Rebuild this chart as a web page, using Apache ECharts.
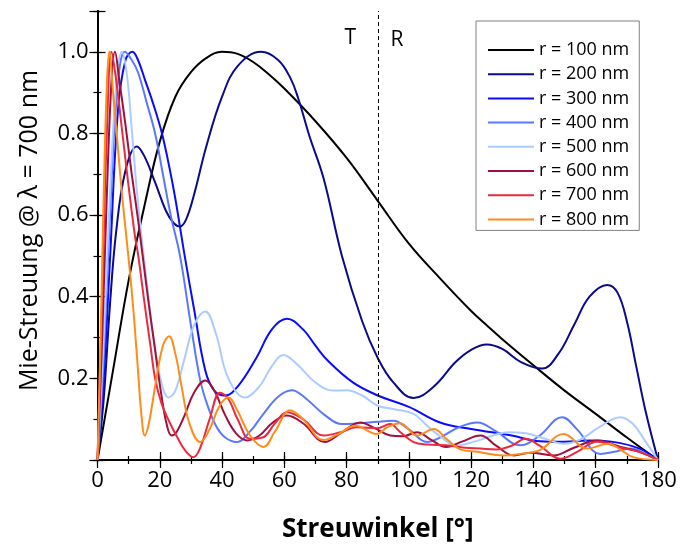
<!DOCTYPE html>
<html>
<head>
<meta charset="utf-8">
<title>Mie-Streuung</title>
<script src="https://cdn.jsdelivr.net/npm/echarts@6/dist/echarts.min.js"></script>
<style>
  html, body { margin: 0; padding: 0; background: #fff; }
  #chart { width: 683px; height: 548px; }
</style>
</head>
<body>
<div id="chart"></div>
<script>
// Normalised Mie scattering intensity vs. scattering angle (degrees), lambda = 700 nm
const xTicks = [0, 20, 40, 60, 80, 100, 120, 140, 160, 180];
const yTicks = [0.2, 0.4, 0.6, 0.8, 1.0];

const radiusLabels = ['r = 100 nm', 'r = 200 nm', 'r = 300 nm', 'r = 400 nm',
                      'r = 500 nm', 'r = 600 nm', 'r = 700 nm', 'r = 800 nm'];
const radiusColors = ['#000000', '#0a0a8a', '#0a0aff', '#5a78ff',
                      '#aaccff', '#a0103c', '#ec2a3e', '#ff8c1a'];

const angles100 = [0, 5, 10, 15, 20, 25, 30, 35, 40, 45, 50, 55, 60, 70, 80, 90, 100, 110, 120, 125, 130, 140, 150, 160, 170, 180];
const values100 = [0, 0.22, 0.44, 0.62, 0.78, 0.89, 0.95, 0.985, 1.0, 0.995, 0.975, 0.945, 0.91, 0.83, 0.74, 0.635, 0.53, 0.445, 0.365, 0.33, 0.296, 0.232, 0.17, 0.113, 0.055, 0];

const angles200 = [0, 2, 4, 6, 9, 12.6, 15, 18.5, 22, 24.5, 26.5, 28.5, 31, 35, 40, 45, 52.5, 58, 62, 64.5, 68, 72.6, 78.5, 85, 90, 95, 101.5, 108, 115, 120, 125, 130, 136, 142.8, 148, 153, 158, 163.7, 167, 170, 173, 176, 180];
const values200 = [0, 0.15, 0.38, 0.56, 0.71, 0.768, 0.745, 0.68, 0.61, 0.58, 0.572, 0.59, 0.65, 0.77, 0.89, 0.965, 1.0, 0.98, 0.935, 0.885, 0.795, 0.69, 0.5, 0.34, 0.25, 0.19, 0.152, 0.18, 0.24, 0.27, 0.283, 0.272, 0.24, 0.224, 0.26, 0.33, 0.4, 0.429, 0.41, 0.34, 0.23, 0.12, 0];

const angles300 = [0, 2, 4, 6.6, 9, 11.2, 13, 15.3, 18, 20.7, 23, 25, 28, 31, 34.6, 37.5, 41, 45, 51, 56, 60.8, 66, 70, 74, 82, 90, 100, 110, 120, 133, 142, 150, 158, 165, 174, 180];
const values300 = [0, 0.2, 0.49, 0.86, 0.98, 1.0, 0.98, 0.93, 0.87, 0.8, 0.72, 0.64, 0.5, 0.37, 0.22, 0.17, 0.158, 0.18, 0.25, 0.32, 0.346, 0.32, 0.28, 0.243, 0.19, 0.158, 0.13, 0.092, 0.076, 0.06, 0.046, 0.045, 0.048, 0.045, 0.028, 0];

const angles400 = [0, 2, 4, 6.5, 8.8, 11, 13, 16, 18.5, 21, 23.5, 26.5, 30, 33, 35.5, 38.3, 41, 44.7, 49, 53, 58, 62.4, 67, 73, 78.5, 84, 90, 95, 100, 105.8, 110, 116, 122, 128, 135.8, 142, 149.2, 154, 161.5, 166, 171, 176, 180];
const values400 = [0, 0.25, 0.6, 0.92, 1.0, 0.98, 0.95, 0.87, 0.8, 0.7, 0.6, 0.5, 0.33, 0.195, 0.13, 0.08, 0.055, 0.044, 0.07, 0.11, 0.155, 0.171, 0.15, 0.11, 0.088, 0.09, 0.094, 0.096, 0.075, 0.044, 0.055, 0.08, 0.092, 0.07, 0.036, 0.06, 0.105, 0.075, 0.015, 0.02, 0.028, 0.015, 0];

const angles500 = [0, 2, 4, 6, 7.8, 9.5, 11, 13, 15.3, 18, 20.5, 22.8, 25, 28, 31, 34.6, 38, 42, 47.4, 52, 56, 59.7, 64, 70, 75.7, 80, 85, 90, 95, 101.5, 105, 109, 115.5, 121, 127, 132, 137, 143, 149.6, 155, 161, 168, 172, 176, 180];
const values500 = [0, 0.3, 0.65, 0.92, 1.0, 0.94, 0.81, 0.63, 0.47, 0.3, 0.19, 0.153, 0.17, 0.25, 0.33, 0.364, 0.31, 0.2, 0.153, 0.18, 0.23, 0.257, 0.235, 0.19, 0.17, 0.171, 0.158, 0.133, 0.125, 0.113, 0.09, 0.064, 0.036, 0.045, 0.06, 0.068, 0.066, 0.054, 0.04, 0.05, 0.08, 0.105, 0.088, 0.045, 0];

const angles600 = [0, 1.5, 3, 4.5, 5.6, 7, 9, 11, 13, 14.5, 16.5, 18.5, 20.5, 22.3, 23.8, 25.5, 28, 31, 34.6, 37.5, 41, 44.5, 48, 52, 56, 60.8, 66, 73, 78, 84.4, 89, 94, 98, 102.6, 107, 112, 117, 123, 128, 133.7, 139, 146.5, 153, 160.5, 168, 174, 180];
const values600 = [0, 0.3, 0.65, 0.93, 1.0, 0.93, 0.82, 0.7, 0.59, 0.5, 0.38, 0.27, 0.16, 0.085, 0.06, 0.07, 0.11, 0.165, 0.195, 0.17, 0.11, 0.065, 0.048, 0.06, 0.09, 0.109, 0.09, 0.044, 0.065, 0.092, 0.078, 0.06, 0.058, 0.068, 0.05, 0.032, 0.045, 0.06, 0.035, 0.011, 0.018, 0.011, 0.03, 0.048, 0.032, 0.02, 0];

const angles700 = [0, 1.5, 3, 4.5, 6, 8, 10, 12, 13.1, 15, 17, 18.5, 20.5, 23, 26, 28.5, 30.8, 33, 36, 39.4, 42, 45, 49, 53, 57, 60.8, 66, 72.6, 78, 83.3, 89.7, 94, 97, 101.5, 106, 112, 118, 123, 128, 133, 137.5, 142, 148.7, 154, 160.5, 168, 174, 180];
const values700 = [0, 0.4, 0.8, 1.0, 0.93, 0.8, 0.67, 0.55, 0.5, 0.39, 0.28, 0.2, 0.14, 0.095, 0.05, 0.02, 0.007, 0.03, 0.1, 0.165, 0.15, 0.1, 0.052, 0.055, 0.09, 0.117, 0.1, 0.06, 0.068, 0.08, 0.078, 0.088, 0.07, 0.044, 0.038, 0.036, 0.03, 0.028, 0.026, 0.035, 0.052, 0.035, 0.003, 0.02, 0.045, 0.03, 0.02, 0];

const angles800 = [0, 1, 2, 3, 3.8, 5, 6.5, 8, 9.9, 11.5, 13, 14, 15.2, 16.5, 18.5, 21, 23, 25, 27, 29.5, 33, 36, 39, 42, 45, 49, 53.3, 57, 61.9, 66, 72.6, 77, 82.8, 89.7, 93, 97.2, 102.6, 108, 112, 116.5, 122, 130.4, 135.8, 142, 149.7, 157.2, 164.2, 168, 172, 180];
const values800 = [0, 0.3, 0.65, 0.92, 1.0, 0.9, 0.77, 0.64, 0.5, 0.37, 0.22, 0.12, 0.06, 0.09, 0.18, 0.28, 0.303, 0.26, 0.18, 0.09, 0.044, 0.075, 0.13, 0.153, 0.12, 0.06, 0.032, 0.07, 0.122, 0.1, 0.049, 0.062, 0.084, 0.064, 0.08, 0.09, 0.06, 0.076, 0.052, 0.026, 0.02, 0.011, 0.015, 0.024, 0.064, 0.028, 0.04, 0.025, 0.007, 0];

const curveAngles = [angles100, angles200, angles300, angles400, angles500, angles600, angles700, angles800];
const curveValues = [values100, values200, values300, values400, values500, values600, values700, values800];

const FONT = '"Open Sans", "Noto Sans", sans-serif';

const series = radiusLabels.map((name, i) => ({
  name,
  type: 'line',
  data: curveAngles[i].map((a, k) => [a, curveValues[i][k]]),
  smooth: 0.4,
  symbol: 'none',
  lineStyle: { color: radiusColors[i], width: 2 },
  itemStyle: { color: radiusColors[i] },
  z: 2 + i
}));

// dashed boundary between transmission (T) and reflection (R) hemispheres
series[0].markLine = {
  silent: true,
  symbol: 'none',
  label: { show: false },
  lineStyle: { type: [4, 3], color: '#000', width: 1 },
  data: [{ xAxis: 90 }]
};
series[0].markPoint = {
  silent: true,
  symbol: 'circle',
  symbolSize: 1,
  itemStyle: { color: 'rgba(0,0,0,0)' },
  label: { show: true, formatter: '{b}', color: '#000', fontSize: 21, fontFamily: FONT },
  data: [
    { name: 'T', coord: [81.2, 1.033] },
    { name: 'R', coord: [96.2, 1.03] }
  ]
};

const axisLineStyle = { show: true, lineStyle: { color: '#000', width: 1.5 } };
const tickStyle = (len) => ({ show: true, inside: true, length: len, lineStyle: { color: '#000', width: 1.2 } });

function xAxisDef(position, interval, tickLen, withLabels) {
  return {
    type: 'value', min: 0, max: 180, interval, position,
    axisLine: axisLineStyle,
    axisTick: tickStyle(tickLen),
    splitLine: { show: false },
    axisLabel: withLabels ? {
      show: true, color: '#000', fontSize: 22, fontFamily: FONT, margin: 10,
      formatter: v => (xTicks.indexOf(v) >= 0 ? String(v) : '')
    } : { show: false },
    name: withLabels ? 'Streuwinkel [°]' : '',
    nameLocation: 'middle',
    nameGap: 57,
    nameTextStyle: { color: '#000', fontSize: 26, fontWeight: 'bold', fontFamily: FONT }
  };
}

function yAxisDef(position, interval, tickLen, withLabels) {
  return {
    type: 'value', min: 0, max: 1.1, interval, position,
    axisLine: axisLineStyle,
    axisTick: tickStyle(tickLen),
    splitLine: { show: false },
    axisLabel: withLabels ? {
      show: true, color: '#000', fontSize: 22, fontFamily: FONT, margin: 9,
      formatter: v => (yTicks.some(t => Math.abs(t - v) < 1e-6) ? v.toFixed(1) : '')
    } : { show: false },
    name: withLabels ? 'Mie-Streuung @ λ = 700 nm' : '',
    nameLocation: 'middle',
    nameGap: 55,
    nameRotate: 90,
    nameTextStyle: { color: '#000', fontSize: 25, fontFamily: FONT, padding: [0, 0, 0, 10] }
  };
}

const chart = echarts.init(document.getElementById('chart'), null, { renderer: 'canvas' });
chart.setOption({
  animation: false,
  backgroundColor: '#fff',
  textStyle: { fontFamily: FONT },
  grid: { left: 97.5, right: 25, top: 11, bottom: 85, containLabel: false },
  xAxis: [
    xAxisDef('bottom', 20, 8, true),
    xAxisDef('bottom', 10, 4, false),
    xAxisDef('top', 20, 8, false),
    xAxisDef('top', 10, 4, false)
  ],
  yAxis: [
    yAxisDef('left', 0.2, 8, true),
    yAxisDef('left', 0.1, 4, false),
    yAxisDef('right', 0.2, 8, false),
    yAxisDef('right', 0.1, 4, false)
  ],
  legend: {
    orient: 'vertical',
    left: 476,
    top: 21,
    padding: [20, 10, 2, 12],
    icon: 'rect',
    itemWidth: 46,
    itemHeight: 2,
    itemGap: 6.2,
    borderColor: '#808080',
    borderWidth: 1,
    backgroundColor: '#fff',
    textStyle: { color: '#000', fontSize: 18, fontFamily: FONT },
    data: radiusLabels
  },
  series
});
</script>
</body>
</html>
